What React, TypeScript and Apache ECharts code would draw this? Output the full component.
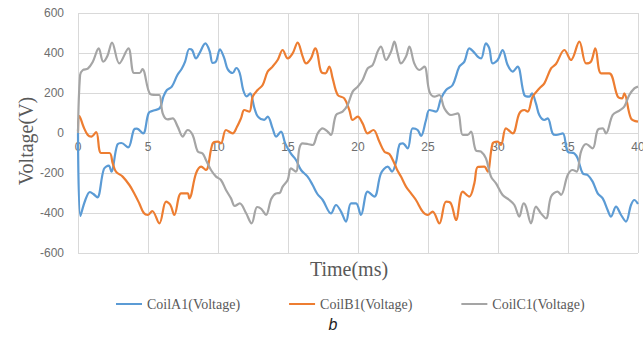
import React, { useEffect, useRef } from "react";
import * as echarts from "echarts";

// Time axis ticks (ms) and voltage axis range
const timeTicks = { min: 0, max: 40, step: 5 };
const voltTicks = { min: -600, max: 600, step: 200 };

const seriesNames = ["CoilA1(Voltage)", "CoilB1(Voltage)", "CoilC1(Voltage)"];
const seriesColors = ["#5B9BD5", "#ED7D31", "#A5A5A5"];

// [time (ms), voltage (V)]
const coilA1: [number, number][] = [
  [0, 0], [0.17, -415], [0.5, -340], [0.85, -295], [1.1, -305], [1.38, -322], [1.85, -180],
  [2.2, -163], [2.38, -193], [2.8, -60], [3.1, -50], [3.58, -72], [4.0, 18], [4.2, 22],
  [4.65, -2], [5.05, 100], [5.4, 112], [5.85, 125], [6.1, 182], [6.35, 215], [6.7, 232],
  [7.1, 290], [7.4, 320], [7.65, 357], [7.95, 420], [8.15, 415], [8.43, 373], [8.67, 398],
  [9.1, 448], [9.4, 410], [9.62, 350], [9.86, 357], [10.14, 418], [10.45, 373], [10.7, 318],
  [11.05, 300], [11.3, 325], [11.55, 300], [11.8, 215], [12.05, 183], [12.3, 198], [12.6, 125],
  [12.85, 82], [13.3, 66], [13.55, 82], [13.9, 23], [14.15, -18], [14.5, 7], [14.8, -52],
  [15.2, -102], [15.57, -135], [15.93, -185], [16.4, -218], [16.76, -260], [17.1, -305],
  [17.48, -335], [18.07, -402], [18.43, -360], [18.79, -393], [19.14, -443], [19.5, -352],
  [19.86, -352], [20.21, -410], [20.69, -293], [21.17, -318], [21.64, -202], [22.12, -168],
  [22.43, -193], [22.72, -145], [22.95, -60], [23.2, -52], [23.55, -77], [23.9, 23],
  [24.26, 15], [24.5, -15], [24.86, 65], [25.1, 115], [25.57, 107], [25.93, 173], [26.29, 215],
  [26.76, 240], [27.24, 332], [27.6, 357], [27.95, 423], [28.24, 407], [28.55, 382],
  [28.79, 373], [29.14, 448], [29.38, 423], [29.62, 348], [29.98, 365], [30.33, 415],
  [30.69, 340], [31.05, 307], [31.4, 332], [31.88, 190], [32.24, 182], [32.43, 198],
  [32.71, 148], [32.95, 90], [33.31, 65], [33.55, 73], [33.9, -2], [34.14, -10], [34.62, -2],
  [34.98, -93], [35.45, -102], [35.69, -127], [36.05, -202], [36.4, -210], [36.76, -243],
  [37.12, -302], [37.48, -327], [37.83, -385], [38.07, -418], [38.43, -368], [38.79, -410],
  [39.14, -443], [39.5, -360], [39.74, -335], [40, -355],
];

const coilB1: [number, number][] = [
  [0, 10], [0.1, 85], [0.4, 30], [0.7, -10], [0.95, -18], [1.3, 5], [1.65, -100], [2.25, -100],
  [2.48, -152], [2.71, -193], [3.19, -218], [3.67, -260], [4.02, -302], [4.38, -352],
  [4.7, -400], [5.0, -410], [5.3, -390], [5.81, -452], [6.29, -343], [6.6, -360], [6.88, -410],
  [7.36, -302], [7.83, -302], [7.95, -327], [8.43, -202], [8.79, -168], [9.14, -185],
  [9.62, -52], [9.98, -43], [10.21, -52], [10.57, 15], [11.05, -2], [11.35, 30], [11.64, 73],
  [11.88, 115], [12.24, 107], [12.48, 182], [12.83, 215], [13.19, 240], [13.55, 307],
  [13.9, 332], [14.26, 365], [14.62, 415], [14.98, 373], [15.33, 398], [15.69, 452],
  [16.05, 382], [16.29, 348], [16.64, 373], [16.95, 423], [17.1, 400], [17.36, 307],
  [17.67, 298], [17.95, 332], [18.19, 273], [18.55, 190], [19.02, 173], [19.38, 115],
  [19.62, 65], [19.98, 82], [20.33, 48], [20.69, -2], [21.1, 15], [21.52, -43], [21.88, -93],
  [22.24, -105], [22.6, -152], [22.8, -185], [23.07, -218], [23.43, -268], [23.79, -302],
  [24.14, -335], [24.62, -393], [24.98, -410], [25.33, -393], [25.81, -452], [26.29, -343],
  [26.64, -352], [27.0, -435], [27.48, -293], [27.95, -318], [28.31, -252], [28.55, -170],
  [29.02, -168], [29.26, -193], [29.62, -52], [29.98, -43], [30.21, -60], [30.57, 23],
  [31.05, -2], [31.52, 98], [31.88, 115], [32.12, 107], [32.48, 182], [32.95, 223],
  [33.31, 248], [33.79, 323], [34.14, 345], [34.74, 415], [35.21, 365], [35.81, 457],
  [36.29, 348], [36.64, 357], [36.95, 423], [37.36, 298], [37.95, 298], [38.55, 182],
  [38.86, 173], [39.02, 198], [39.5, 73], [40, 57],
];

const coilC1: [number, number][] = [
  [0, 0], [0.15, 290], [0.35, 315], [0.7, 322], [1.05, 355], [1.48, 423], [1.8, 357],
  [2.1, 385], [2.43, 452], [2.95, 348], [3.6, 423], [4.0, 300], [4.4, 300], [4.6, 320],
  [5.15, 195], [5.57, 190], [5.81, 190], [6.05, 98], [6.4, 68], [6.76, 73], [7.12, 32],
  [7.48, -18], [7.83, 15], [8.19, -10], [8.55, -93], [8.9, -102], [9.14, -135], [9.5, -185],
  [9.86, -218], [10.21, -235], [10.57, -285], [10.93, -327], [11.2, -365], [11.55, -352],
  [12.0, -400], [12.4, -452], [12.8, -370], [13.1, -380], [13.43, -410], [13.8, -330],
  [14.14, -302], [14.4, -300], [14.62, -268], [14.98, -235], [15.21, -177], [15.57, -193],
  [15.81, -77], [16.05, -52], [16.4, -55], [16.76, -60], [17.12, -2], [17.48, 23], [17.83, 7],
  [18.07, -10], [18.43, 90], [18.9, 107], [19.26, 140], [19.62, 207], [19.98, 232],
  [20.33, 265], [20.69, 323], [21.05, 340], [21.4, 407], [21.64, 432], [22.0, 365],
  [22.36, 407], [22.6, 457], [22.83, 398], [23.07, 348], [23.43, 382], [23.67, 432],
  [24.02, 348], [24.38, 315], [24.74, 332], [25.1, 207], [25.45, 182], [25.81, 190],
  [26.17, 123], [26.64, 90], [27.12, 98], [27.48, -10], [27.83, -10], [28.07, 7],
  [28.43, -88], [28.79, -93], [29.14, -127], [29.5, -218], [29.86, -252], [30.33, -310],
  [30.81, -335], [31.17, -360], [31.52, -418], [31.83, -352], [32.0, -368], [32.36, -452],
  [32.71, -368], [33.07, -402], [33.43, -427], [33.79, -318], [34.26, -293], [34.5, -310],
  [34.98, -210], [35.33, -185], [35.62, -193], [35.93, -93], [36.29, -55], [36.76, -77],
  [37.12, 15], [37.48, 23], [37.71, -2], [38.19, 90], [38.67, 112], [39.02, 132],
  [39.38, 190], [39.74, 223], [40, 232],
];

const seriesData = [coilA1, coilB1, coilC1];

const GRID_COLOR = "#D9D9D9";
const TEXT_COLOR = "#595959";
const GRID_TOP = 13;
const GRID_BOTTOM = 85;
const CHART_H = 338;

export default function App() {
  const ref = useRef<HTMLDivElement>(null);

  useEffect(() => {
    if (!ref.current) return;
    const chart = echarts.init(ref.current, undefined, { renderer: "svg" });

    // the time axis sits on the 0 V line, i.e. half way up the plot area
    const plotH = CHART_H - GRID_TOP - GRID_BOTTOM;
    const zeroLift = (plotH * (0 - voltTicks.min)) / (voltTicks.max - voltTicks.min);

    chart.setOption({
      animation: false,
      backgroundColor: "#ffffff",
      grid: {
        left: 78,
        right: 5,
        top: GRID_TOP,
        bottom: GRID_BOTTOM,
        containLabel: false,
        outerBoundsMode: "none",
      },
      xAxis: {
        type: "value",
        position: "bottom",
        offset: -zeroLift,
        min: timeTicks.min,
        max: timeTicks.max,
        interval: timeTicks.step,
        axisLine: { show: false, onZero: false },
        axisTick: { show: false },
        axisLabel: {
          margin: 8,
          fontSize: 12,
          color: "#6e6e6e",
          fontFamily: "Liberation Sans",
          showMinLabel: true,
          showMaxLabel: true,
        },
        splitLine: { show: true, lineStyle: { color: GRID_COLOR, width: 1 } },
      },
      yAxis: {
        type: "value",
        min: voltTicks.min,
        max: voltTicks.max,
        interval: voltTicks.step,
        axisLine: { show: false },
        axisTick: { show: false },
        axisLabel: {
          margin: 14,
          fontSize: 12,
          color: "#6e6e6e",
          fontFamily: "Liberation Sans",
        },
        splitLine: { show: true, lineStyle: { color: GRID_COLOR, width: 1 } },
      },
      legend: {
        left: 111,
        top: 292,
        icon: "rect",
        itemWidth: 26,
        itemHeight: 2,
        itemGap: 49,
        textStyle: {
          fontFamily: "Liberation Serif",
          fontSize: 14,
          color: TEXT_COLOR,
        },
        data: seriesNames,
      },
      graphic: [
        {
          type: "text",
          x: 26,
          y: 141,
          rotation: Math.PI / 2,
          style: {
            text: "Voltage(V)",
            font: '20px "Liberation Serif"',
            fill: TEXT_COLOR,
            align: "center",
            verticalAlign: "middle",
          },
        },
        {
          type: "text",
          x: 349,
          y: 269,
          style: {
            text: "Time(ms)",
            font: '20px "Liberation Serif"',
            fill: TEXT_COLOR,
            align: "center",
            verticalAlign: "middle",
          },
        },
        {
          type: "text",
          x: 333,
          y: 324,
          style: {
            text: "b",
            font: 'italic 16px "Liberation Sans"',
            fill: "#222222",
            align: "center",
            verticalAlign: "middle",
          },
        },
      ],
      series: seriesData.map((data, i) => ({
        name: seriesNames[i],
        type: "line",
        data,
        symbol: "none",
        smooth: 0.35,
        color: seriesColors[i],
        lineStyle: { width: 2.2, color: seriesColors[i] },
      })),
    });

    return () => chart.dispose();
  }, []);

  return (
    <div
      ref={ref}
      style={{ position: "fixed", left: 0, top: 0, width: 643, height: 338 }}
    />
  );
}
